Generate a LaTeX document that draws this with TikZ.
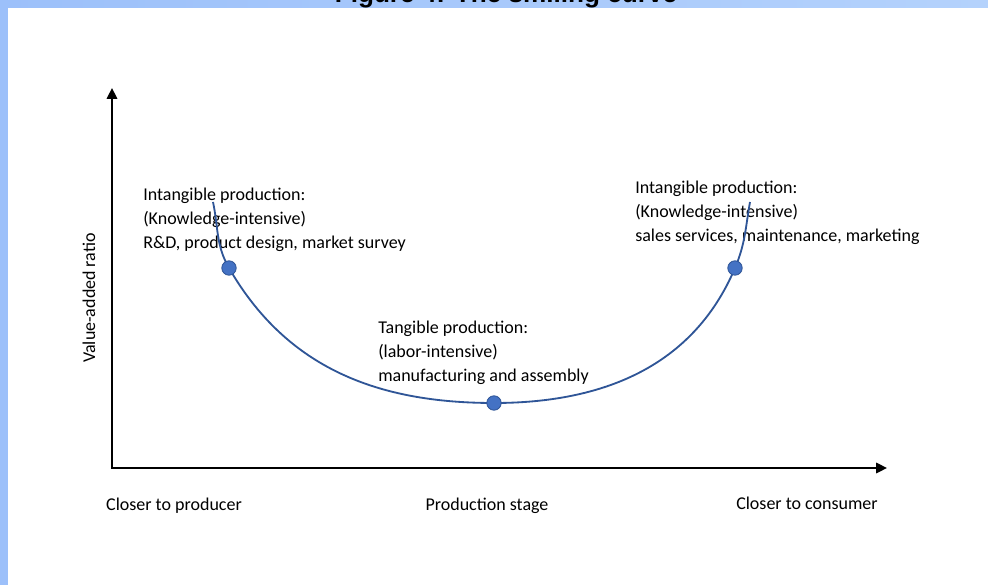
\documentclass[tikz,border=0pt]{standalone}
\usepackage{fontspec}
\setmainfont{Carlito}
\newfontfamily\titlefont{Liberation Sans}
\usetikzlibrary{arrows.meta}

\definecolor{curveblue}{RGB}{47,85,151}
\definecolor{dotblue}{RGB}{68,114,196}
\definecolor{bgblue}{RGB}{156,192,250}
\definecolor{bgblue2}{RGB}{180,210,252}

\begin{document}
\begin{tikzpicture}[
    stagedot/.style = {circle, fill=dotblue, draw=curveblue, line width=0.6pt,
                       minimum size=0.36cm, inner sep=0pt},
    stagetext/.style = {anchor=north west, align=left, inner sep=0pt,
                        font=\fontsize{12.8}{17}\selectfont},
    axislabel/.style = {inner sep=0pt, font=\fontsize{12.8}{15}\selectfont},
    axis/.style = {line width=1.3pt,
                   {Triangle[length=0.27cm, width=0.26cm]}-{Triangle[length=0.27cm, width=0.26cm]}}
  ]
  \clip (-2.8,-2.9) rectangle (21.9,11.7);
  \shade[left color=bgblue, right color=bgblue2] (-2.8,-2.9) rectangle (21.9,11.7);
  \fill[white] (-2.6,-3.5) rectangle (22.5,11.5);
  \node[anchor=base, inner sep=0pt, font=\titlefont\bfseries\fontsize{18.6}{22}\selectfont]
    (title) at (9.85,11.64) {Figure 4: The smiling curve};

  % axes
  \coordinate (O) at (0,0);
  \coordinate (ytop) at (0,9.5);
  \coordinate (xend) at (19.375,0);
  \draw[axis] (ytop) -- (O) -- (xend);

  \node[axislabel] (producer) at (1.55,-0.95) {Closer to producer};
  \node[axislabel] (stage) at (9.375,-0.95) {Production stage};
  \node[axislabel] (consumer) at (17.375,-0.875) {Closer to consumer};
  \node[axislabel, rotate=90] (ratio) at (-0.575,4.25) {Value-added ratio};

  % stages
  \node[stagetext] (upstream) at (0.775,7.0125)
    {Intangible production:\\(Knowledge-intensive)\\R\&D, product design, market survey};
  \node[stagetext] (downstream) at (13.075,7.175)
    {Intangible production:\\(Knowledge-intensive)\\sales services, maintenance, marketing};
  \node[stagetext] (midstream) at (6.65,3.675)
    {Tangible production:\\(labor-intensive)\\manufacturing and assembly};

  % the curve
  \coordinate (c0) at (2.525,6.65);
  \coordinate (rd) at (2.925,5.0);
  \coordinate (mfg) at (9.55,1.625);
  \coordinate (mkt) at (15.575,5.0);
  \coordinate (c1) at (15.95,6.65);
  \draw[curveblue, line width=1.3pt]
    (c0) to[out=-78, in=120] (rd)
         to[out=-60, in=180] (mfg)
         to[out=0, in=-113] (mkt)
         to[out=67, in=-100] (c1);

  \node[stagedot] (rddot) at (rd) {};
  \node[stagedot] (mfgdot) at (mfg) {};
  \node[stagedot] (mktdot) at (mkt) {};
\end{tikzpicture}
\end{document}
